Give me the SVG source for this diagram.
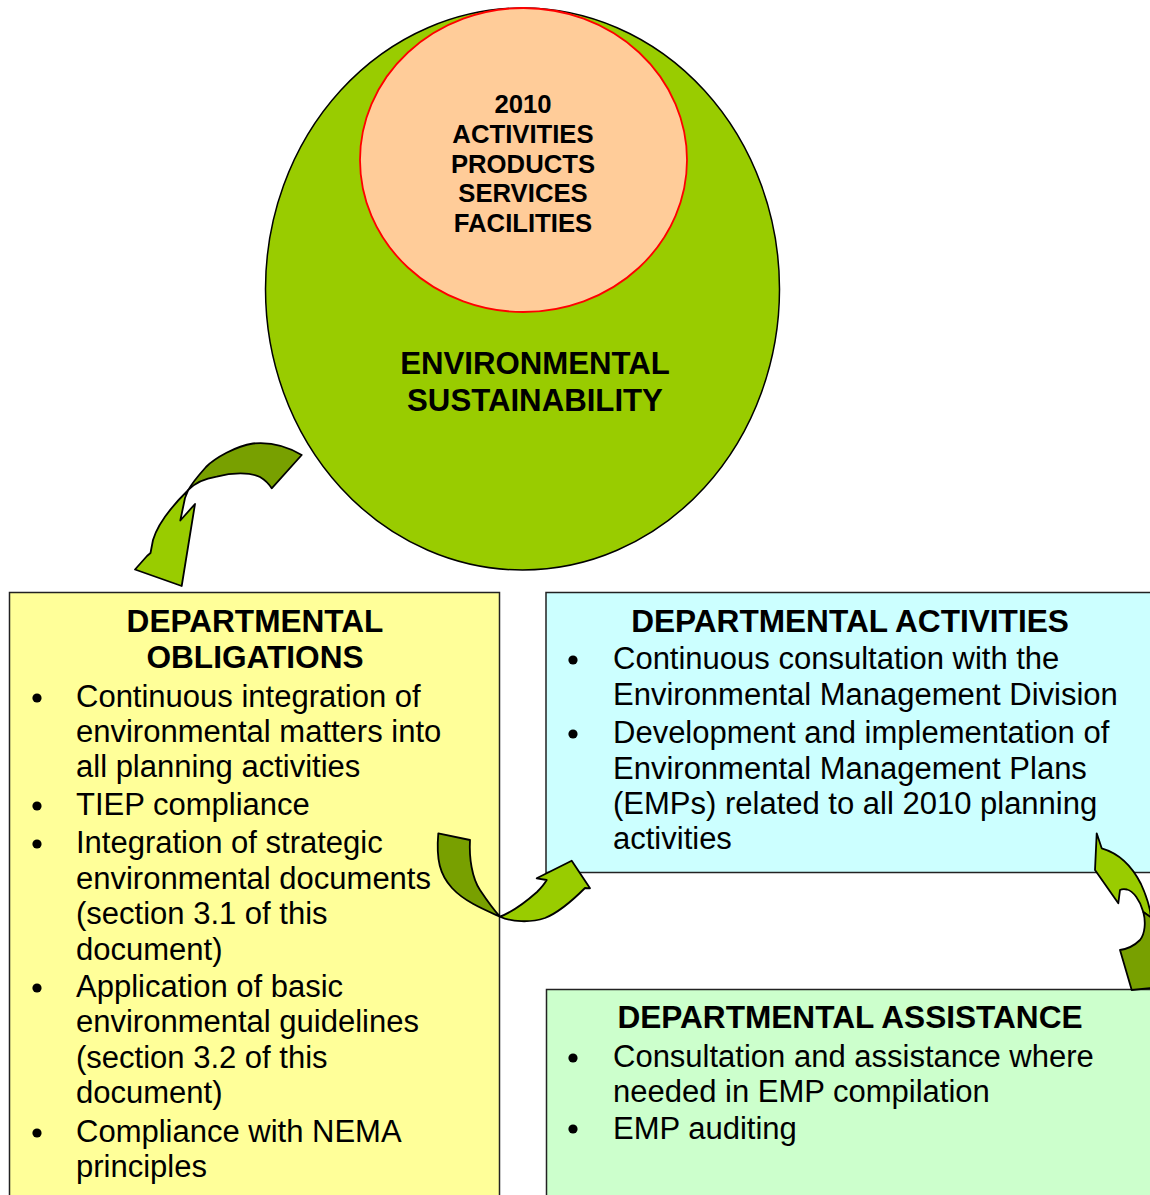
<svg xmlns="http://www.w3.org/2000/svg" width="1150" height="1195" viewBox="0 0 1150 1195">
<style>
text{font-family:"Liberation Sans",Arial,sans-serif;fill:#000}
.h{font-weight:bold;font-size:31.6px;text-anchor:middle}
.b{font-size:31px}
.c{font-weight:bold;font-size:25.7px;text-anchor:middle}
.e{font-weight:bold;font-size:31.2px;text-anchor:middle}
.box{stroke:#222;stroke-width:1.5}
.lt{fill:#99CC00;stroke:#000;stroke-width:1.8;stroke-linejoin:round}
.dk{fill:#78A000;stroke:#000;stroke-width:1.8;stroke-linejoin:round}
</style>
<rect width="1150" height="1195" fill="#fff"/>
<g id="sustainability">
<ellipse cx="522.5" cy="289" rx="257" ry="281" fill="#99CC00" stroke="#000" stroke-width="1.5"/>
<text class="e" x="535" y="374">ENVIRONMENTAL</text>
<text class="e" x="535" y="411">SUSTAINABILITY</text>
</g>
<g id="activities-circle">
<ellipse cx="523.5" cy="160" rx="163.5" ry="152" fill="#FFCC99" stroke="#FF0000" stroke-width="1.8"/>
<text class="c" x="523" y="113">2010</text>
<text class="c" x="523" y="143">ACTIVITIES</text>
<text class="c" x="523" y="172.5">PRODUCTS</text>
<text class="c" x="523" y="202">SERVICES</text>
<text class="c" x="523" y="231.5">FACILITIES</text>
</g>
<g id="obligations">
<rect class="box" x="9.5" y="592.5" width="490" height="620" fill="#FFFF99"/>
<text class="h" x="255" y="632">DEPARTMENTAL</text>
<text class="h" x="255" y="668">OBLIGATIONS</text>
<g fill="#000">
<circle cx="37" cy="698" r="4.6"/>
<circle cx="37" cy="806" r="4.6"/>
<circle cx="37" cy="844" r="4.6"/>
<circle cx="37" cy="988" r="4.6"/>
<circle cx="37" cy="1133" r="4.6"/>
</g>
<text class="b" x="76" y="707">Continuous integration of</text>
<text class="b" x="76" y="742">environmental matters into</text>
<text class="b" x="76" y="777">all planning activities</text>
<text class="b" x="76" y="815">TIEP compliance</text>
<text class="b" x="76" y="853">Integration of strategic</text>
<text class="b" x="76" y="888.5">environmental documents</text>
<text class="b" x="76" y="924">(section 3.1 of this</text>
<text class="b" x="76" y="959.5">document)</text>
<text class="b" x="76" y="997">Application of basic</text>
<text class="b" x="76" y="1032">environmental guidelines</text>
<text class="b" x="76" y="1067.5">(section 3.2 of this</text>
<text class="b" x="76" y="1103">document)</text>
<text class="b" x="76" y="1141.5">Compliance with NEMA</text>
<text class="b" x="76" y="1177">principles</text>
</g>
<g id="activities">
<rect class="box" x="546" y="592.5" width="620" height="280" fill="#CCFFFF"/>
<text class="h" x="850" y="632">DEPARTMENTAL ACTIVITIES</text>
<g fill="#000">
<circle cx="573" cy="660" r="4.6"/>
<circle cx="573" cy="734" r="4.6"/>
</g>
<text class="b" x="613" y="669">Continuous consultation with the</text>
<text class="b" x="613" y="705">Environmental Management Division</text>
<text class="b" x="613" y="743">Development and implementation of</text>
<text class="b" x="613" y="778.5">Environmental Management Plans</text>
<text class="b" x="613" y="814">(EMPs) related to all 2010 planning</text>
<text class="b" x="613" y="849">activities</text>
</g>
<g id="assistance">
<rect class="box" x="546.5" y="989.5" width="620" height="230" fill="#CCFFCC"/>
<text class="h" x="850" y="1028">DEPARTMENTAL ASSISTANCE</text>
<g fill="#000">
<circle cx="573" cy="1058" r="4.6"/>
<circle cx="573" cy="1129" r="4.6"/>
</g>
<text class="b" x="613" y="1067">Consultation and assistance where</text>
<text class="b" x="613" y="1102">needed in EMP compilation</text>
<text class="b" x="613" y="1139">EMP auditing</text>
</g>
<g id="connectors">
<path class="dk" d="M301.7,455 C285,445 268,442 253,443.5 C236,446 215,458 206,467 C198,476 192,483 188.3,490 C194,484 202,479 216.7,476.7 C232,472.5 250,472 260,477 C265,480 269,484 271.7,488.3 Z"/>
<path class="lt" d="M188.3,490 C172,506 158,523 153,540 L150.5,553 L147,556 L135,569.5 L181.7,586 L195,504 L180.3,520.5 L185,498 Z"/>
<path class="dk" d="M438.3,833.3 L470,840 C469,858 472,878 480,890 C488,902 494,910 500,916.7 C485,910 465,902 452,888 C440,875 436,860 438.3,833.3 Z"/>
<path class="lt" d="M500,916.7 C512,912 528,900 537,892 C542,887 545,883 546.7,880 L536.7,878.3 L571.7,860.7 L590,888.3 L585,888 C575,898 560,912 545,918 C530,923 512,922 500,916.7 Z"/>
<path class="lt" d="M1096.7,833.3 L1101.7,848.3 C1118,853 1132,866 1141,884 C1146,895 1150,905 1151,918 L1143.3,912 C1140,900 1133,891 1127,889.5 C1124,889 1121,889.5 1120,890 L1118.3,903.3 L1095,870 Z"/>
<path class="dk" d="M1143.3,912 C1146,922 1145,934 1140,940 C1134,946 1127,949 1120,950 L1131.7,990 L1152,988 L1152,918 Z"/>
</g>
</svg>
